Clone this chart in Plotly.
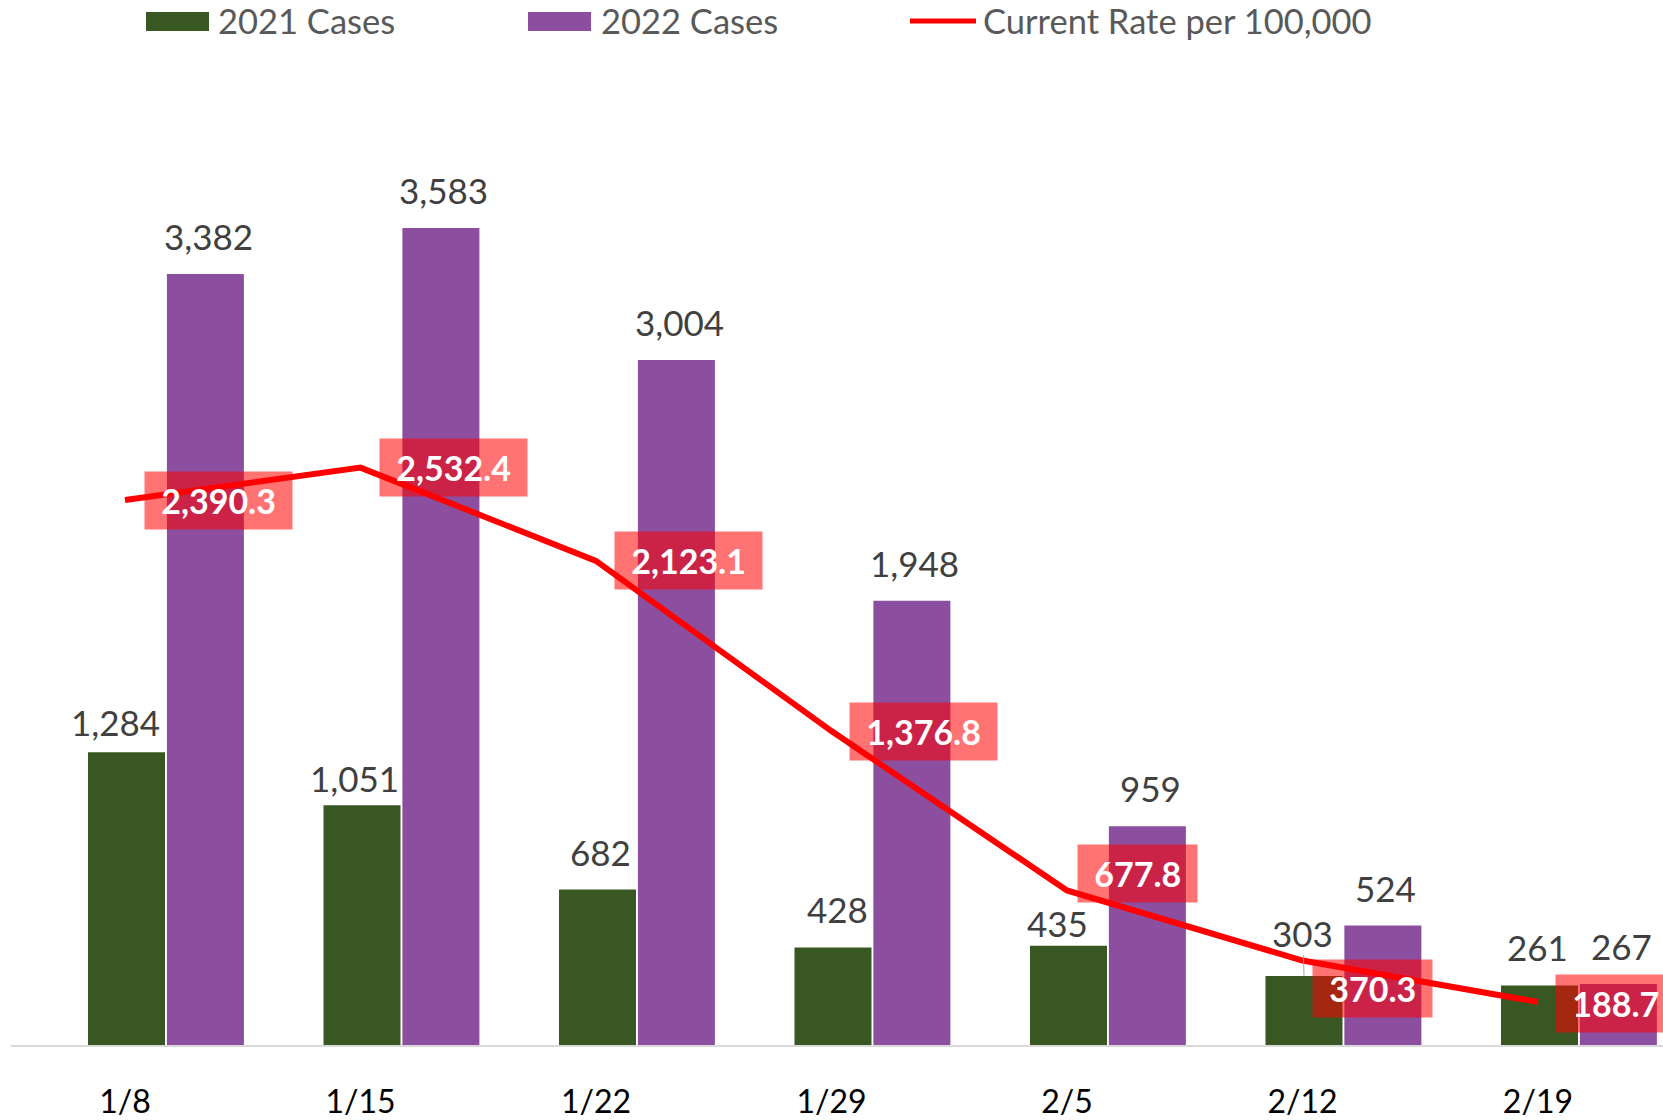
import plotly.graph_objects as go

# ---------------- data ----------------
dates = ['1/8', '1/15', '1/22', '1/29', '2/5', '2/12', '2/19']
cases_2021 = [1284, 1051, 682, 428, 435, 303, 261]
cases_2022 = [3382, 3583, 3004, 1948, 959, 524, 267]
rate_per_100k = [2390.3, 2532.4, 2123.1, 1376.8, 677.8, 370.3, 188.7]
series_names = ['2021 Cases', '2022 Cases', 'Current Rate per 100,000']

# ---------------- style ----------------
W, H = 1663, 1120
ML, MR, MT, MB = 11, 0, 0, 75
PW, PH = W - ML - MR, H - MT - MB
GREEN = '#385723'
PURPLE = '#8C4F9F'
RED = '#FF0000'
FONT = 'Lato'
BAR_W = 0.327
OFF_2021 = -0.157
OFF_2022 = 0.178
Y_MAX = PH / 0.228
X_RANGE = [-0.484, 6.531]
rate_xshift = [19, 19, 18, 18, 10, 10, 17]
rate_yshift = [0, 0, 0, 0, 17, -28, -2]
lab21_xshift = [-11, -8, 3, 4, -11, -4, -2]
lab21_yshift = [7, 4, 15, 15, 0, 15, 15]
lab22_xshift = [3, 3, 3, 3, 3, 3, 3]


def px_x(px):
    return (px - ML) / PW


def px_y(py):
    return (H - MB - py) / PH


idx = list(range(len(dates)))

fig = go.Figure()
fig.add_trace(go.Bar(x=idx, y=cases_2021, name=series_names[0], width=BAR_W,
                     offset=OFF_2021, marker=dict(color=GREEN, line=dict(width=0)),
                     showlegend=False))
fig.add_trace(go.Bar(x=idx, y=cases_2022, name=series_names[1], width=BAR_W,
                     offset=OFF_2022, marker=dict(color=PURPLE, line=dict(width=0)),
                     showlegend=False))
fig.add_trace(go.Scatter(x=idx, y=rate_per_100k, name=series_names[2], mode='lines',
                         line=dict(color=RED, width=6), showlegend=False))

ann = []
# bar value labels
for i, v in enumerate(cases_2021):
    a = dict(x=i + OFF_2021 + BAR_W / 2, y=v, text=f'{v:,}', xref='x', yref='y',
             font=dict(family=FONT, size=35, color='#404040'))
    if v == 303:
        a.update(showarrow=True, ax=-1, ay=-43, arrowhead=0, arrowwidth=1,
                 arrowcolor='#A6A6A6', standoff=0)
    else:
        a.update(showarrow=False, yanchor='bottom', xshift=lab21_xshift[i],
                 yshift=lab21_yshift[i])
    ann.append(a)
for i, v in enumerate(cases_2022):
    ann.append(dict(x=i + OFF_2022 + BAR_W / 2, y=v, text=f'{v:,}', xref='x', yref='y',
                    showarrow=False, yanchor='bottom', xshift=lab22_xshift[i], yshift=15,
                    font=dict(family=FONT, size=35, color='#404040')))
# rate labels
for i, v in enumerate(rate_per_100k):
    ann.append(dict(x=i, y=v, text='\u00a0' + f'{v:,.1f}' + '\u00a0', xref='x', yref='y',
                    showarrow=False, xanchor='left', yanchor='middle',
                    xshift=rate_xshift[i], yshift=rate_yshift[i],
                    bgcolor='rgba(255,0,0,0.55)', borderpad=8,
                    font=dict(family=FONT, size=34, color='white', weight='bold')))

# custom legend
shapes = []
leg_items = [
    dict(kind='rect', x0=146, x1=209, color=GREEN, tx=216),
    dict(kind='rect', x0=528, x1=591, color=PURPLE, tx=599),
    dict(kind='line', x0=910, x1=976, color=RED, tx=981),
]
for name, it in zip(series_names, leg_items):
    if it['kind'] == 'rect':
        shapes.append(dict(type='rect', xref='paper', yref='paper',
                           x0=px_x(it['x0']), x1=px_x(it['x1']),
                           y0=px_y(31), y1=px_y(12),
                           fillcolor=it['color'], line=dict(width=0)))
    else:
        shapes.append(dict(type='line', xref='paper', yref='paper',
                           x0=px_x(it['x0']), x1=px_x(it['x1']),
                           y0=px_y(21), y1=px_y(21),
                           line=dict(color=it['color'], width=5)))
    ann.append(dict(x=px_x(it['tx']), y=px_y(21), xref='paper', yref='paper',
                    text=name, showarrow=False, xanchor='left', yanchor='middle',
                    font=dict(family=FONT, size=34.5, color='#595959')))

fig.update_layout(
    width=W, height=H,
    margin=dict(l=ML, r=MR, t=MT, b=MB, autoexpand=False),
    paper_bgcolor='white', plot_bgcolor='white',
    barmode='overlay',
    showlegend=False,
    annotations=ann,
    shapes=shapes,
    xaxis=dict(range=X_RANGE, tickmode='array', tickvals=idx, ticktext=dates,
               showgrid=False, zeroline=False, showline=True, linecolor='#D9D9D9',
               linewidth=2, ticks='', ticklabelstandoff=28, automargin=False,
               tickfont=dict(family=FONT, size=32, color='#000000')),
    yaxis=dict(range=[0, Y_MAX], visible=False, showgrid=False, zeroline=False,
               automargin=False),
)

fig.write_html('out.html', config={'displayModeBar': False},
               post_script="document.body.style.margin='0';")
